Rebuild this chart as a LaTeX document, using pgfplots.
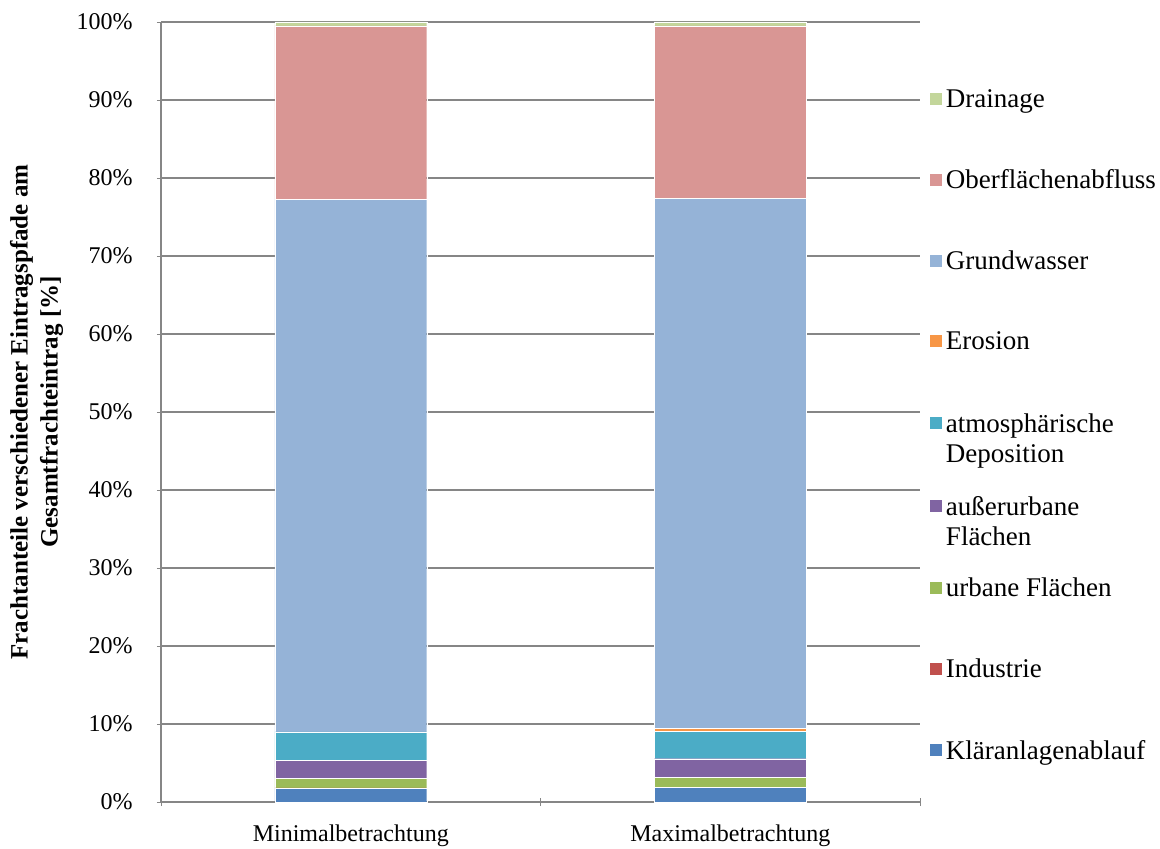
\documentclass[border=0pt,12pt]{standalone}
\usepackage{pgfplots}
\pgfplotsset{compat=1.18}
\usepackage{fontspec}
\setmainfont{Liberation Serif}
\definecolor{cKlaer}{HTML}{4F81BD}
\definecolor{cInd}{HTML}{C0504D}
\definecolor{cUrb}{HTML}{9BBB59}
\definecolor{cAuss}{HTML}{8064A2}
\definecolor{cAtm}{HTML}{4BACC6}
\definecolor{cEro}{HTML}{F79646}
\definecolor{cGrund}{HTML}{95B3D7}
\definecolor{cOber}{HTML}{D99694}
\definecolor{cDrain}{HTML}{C3D69B}
\definecolor{axgray}{HTML}{868686}
\newcommand{\twoline}[2]{\raisebox{0pt}[\height][0pt]{\begin{tabular}[t]{@{}l@{}}#1\\#2\end{tabular}}}
\begin{document}
\begin{tikzpicture}
\useasboundingbox (-80.5pt,-23pt) rectangle (499.5pt,401pt);
\begin{axis}[
  at={(0pt,0pt)}, anchor=south west,
  scale only axis,
  width=379.5pt, height=390pt,
  ybar stacked,
  bar width=0.4,
  xmin=-0.5, xmax=1.5,
  ymin=0, ymax=100,
  xtick={0,1},
  xticklabels={Minimalbetrachtung,Maximalbetrachtung},
  minor xtick={-0.5,0.5,1.5},
  major x tick style={draw=none},
  minor x tick style={draw=axgray},
  minor tick length=4pt,
  ytick={0,10,...,100},
  yticklabel={\pgfmathprintnumber{\tick}\%},
  /pgf/number format/assume math mode=true,
  major tick length=4pt,
  tick align=outside,
  axis x line=bottom,
  axis y line=left,
  axis line style={draw=axgray, line width=0.8pt, -},
  y tick style={draw=axgray},
  ymajorgrids,
  grid style={draw=axgray, line width=0.8pt},
  xticklabel style={yshift=-5pt},
  yticklabel style={xshift=-8pt},
  ylabel={Frachtanteile verschiedener Eintragspfade am\\Gesamtfrachteintrag [\%]},
  ylabel style={font=\fontsize{12.5}{15}\selectfont\bfseries, align=center, at={(axis description cs:-0.118,0.5)}, anchor=south},
  reverse legend,
  legend cell align=left,
  legend style={draw=none, at={(1.003,0.482)}, anchor=west, row sep=25.3pt,
    font=\fontsize{13.5}{15}\selectfont,
    nodes={inner sep=2pt}},
  legend image code/.code={\fill[#1] (0pt,-2.5pt) rectangle (6.5pt,4pt);},
  every axis plot/.append style={draw=white, line width=0.15pt},
]
\addplot[fill=cKlaer] coordinates {(0,1.75) (1,1.85)};
\addlegendentry{Kläranlagenablauf}
\addplot[fill=cInd] coordinates {(0,0.05) (1,0.05)};
\addlegendentry{Industrie}
\addplot[fill=cUrb] coordinates {(0,1.2) (1,1.3)};
\addlegendentry{urbane Flächen}
\addplot[fill=cAuss] coordinates {(0,2.35) (1,2.35)};
\addlegendentry{\twoline{außerurbane}{Flächen}}
\addplot[fill=cAtm] coordinates {(0,3.65) (1,3.55)};
\addlegendentry{\twoline{atmosphärische}{Deposition}}
\addplot[fill=cEro] coordinates {(0,0.0) (1,0.4)};
\addlegendentry{Erosion}
\addplot[fill=cGrund] coordinates {(0,68.3) (1,67.9)};
\addlegendentry{Grundwasser}
\addplot[fill=cOber] coordinates {(0,22.2) (1,22.1)};
\addlegendentry{Oberflächenabfluss}
\addplot[fill=cDrain] coordinates {(0,0.5) (1,0.5)};
\addlegendentry{Drainage}
\end{axis}
\end{tikzpicture}
\end{document}
